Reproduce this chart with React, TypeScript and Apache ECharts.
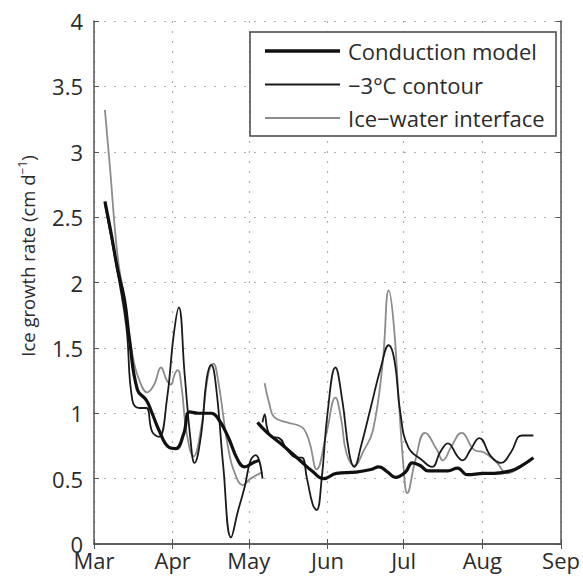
import React, { useEffect, useRef } from "react";
import * as echarts from "echarts";

// x values are days after 1 March; y values are ice growth rate (cm/d)
const MONTHS = ["Jan", "Feb", "Mar", "Apr", "May", "Jun", "Jul", "Aug", "Sep", "Oct", "Nov", "Dec"];
const SERIES_NAMES = ["Conduction model", "\u22123\u00b0C contour", "Ice\u2212water interface"];
const Y_NAME = "Ice growth rate (cm d{sup|\u22121})";

const condDays1 = [4.3, 7.0, 9.3, 12.0, 14.0, 17.1, 20.6, 22.9, 25.6, 29.5, 32.2, 35.3, 37.7, 41.1, 46.2, 48.9, 52.8, 56.7, 59.4, 62.5, 65.2];
const condVals1 = [2.62, 2.35, 2.1, 1.87, 1.56, 1.18, 1.1, 1.0, 0.87, 0.74, 0.73, 0.84, 1.01, 1.0, 1.0, 0.96, 0.82, 0.64, 0.59, 0.62, 0.64];
const condDays2 = [64.4, 68.3, 73.4, 81.1, 85.8, 90.5, 95.5, 103.3, 109.1, 112.2, 115.7, 118.8, 122.7, 125.4, 128.5, 131.6, 139.4, 143.2, 147.1, 153.7, 157.6, 164.2, 168.5, 173.1];
const condVals2 = [0.93, 0.85, 0.77, 0.64, 0.56, 0.5, 0.54, 0.55, 0.57, 0.59, 0.55, 0.51, 0.55, 0.62, 0.6, 0.56, 0.56, 0.58, 0.53, 0.54, 0.54, 0.56, 0.6, 0.66];

const contDays1 = [4.3, 10.0, 12.8, 15.1, 17.9, 20.6, 22.9, 25.6, 28.7, 31.4, 33.4, 35.7, 38.0, 39.6, 42.3, 44.3, 46.2, 48.1, 50.9, 54.0, 56.7, 59.4, 61.7, 63.7, 66.4];
const contVals1 = [2.6, 2.0, 1.65, 1.1, 1.04, 1.04, 0.86, 0.82, 1.1, 1.6, 1.81, 1.3, 0.8, 0.62, 0.85, 1.25, 1.37, 1.2, 0.6, 0.05, 0.25, 0.44, 0.64, 0.68, 0.5];
const contDays2 = [66.4, 67.2, 68.3, 69.9, 73.0, 76.1, 80.0, 81.9, 83.9, 86.2, 87.7, 89.7, 92.0, 95.1, 97.8, 100.5, 102.5, 105.2, 109.1, 113.0, 116.1, 118.4, 120.7, 123.8, 129.3, 133.2, 136.3, 139.4, 143.2, 145.2, 148.3, 151.8, 156.4, 160.3, 164.2, 168.5, 173.1];
const contVals2 = [0.93, 0.99, 0.88, 0.82, 0.81, 0.72, 0.66, 0.66, 0.5, 0.3, 0.26, 0.5, 1.0, 1.35, 1.1, 0.7, 0.59, 0.75, 1.05, 1.35, 1.52, 1.4, 1.0, 0.74, 0.64, 0.59, 0.7, 0.77, 0.67, 0.64, 0.72, 0.81, 0.67, 0.62, 0.7, 0.83, 0.83];

const iceDays1 = [4.3, 6.2, 9.3, 12.0, 15.1, 17.9, 21.0, 23.7, 26.4, 28.7, 30.3, 31.8, 33.0, 34.5, 36.5, 39.2, 42.3, 45.0, 47.0, 48.9, 52.8, 55.9, 58.6, 61.7, 66.4];
const iceVals1 = [3.32, 2.9, 2.2, 1.87, 1.45, 1.25, 1.16, 1.22, 1.35, 1.25, 1.22, 1.3, 1.33, 1.2, 0.85, 0.67, 0.9, 1.3, 1.38, 1.25, 0.74, 0.52, 0.45, 0.5, 0.55];
const iceDays2 = [67.2, 69.1, 71.0, 76.1, 80.0, 82.7, 85.0, 87.7, 91.6, 95.1, 97.4, 99.4, 102.5, 106.4, 109.9, 113.7, 116.1, 118.0, 120.0, 121.9, 123.4, 126.6, 130.4, 135.1, 137.4, 140.9, 144.8, 149.8, 153.7, 158.8, 162.7, 168.1, 173.1];
const iceVals2 = [1.23, 1.07, 0.97, 0.93, 0.91, 0.88, 0.77, 0.57, 0.85, 1.12, 0.95, 0.7, 0.6, 0.72, 0.87, 1.38, 1.94, 1.7, 1.12, 0.6, 0.39, 0.64, 0.85, 0.72, 0.64, 0.75, 0.85, 0.72, 0.7, 0.62, 0.54, 0.59, 0.66];

const DAY = 86400000;
const BASE = new Date(2003, 2, 1).getTime();
const X_MIN = BASE;
const X_MAX = new Date(2003, 8, 1).getTime();

const toPairs = (days: number[], vals: number[]) => days.map((d, i) => [BASE + d * DAY, vals[i]]);

const FONT = "Open Sans";
const TEXT = "#2b2b2b";
const AXIS = "#555";

// legend sample: a bar of given thickness centred in a 75x14 box
const barIcon = (t: number) => {
  const a = 7 - t / 2;
  const b = 7 + t / 2;
  return `path://M0,0L75,0L75,0.01L0,0.01Z M0,${a}L75,${a}L75,${b}L0,${b}Z M0,13.99L75,13.99L75,14L0,14Z`;
};

export default function App() {
  const ref = useRef<HTMLDivElement>(null);
  useEffect(() => {
    if (!ref.current) return;
    const chart = echarts.init(ref.current, null, { renderer: "svg" });
    const styles = [
      { color: "#111", width: 3.2 },
      { color: "#1a1a1a", width: 1.8 },
      { color: "#8c8c8c", width: 1.8 },
    ];
    const segs = [
      [toPairs(condDays1, condVals1), toPairs(condDays2, condVals2)],
      [toPairs(contDays1, contVals1), toPairs(contDays2, contVals2)],
      [toPairs(iceDays1, iceVals1), toPairs(iceDays2, iceVals2)],
    ];
    const order = [2, 1, 0];
    const series: any[] = [];
    order.forEach((k) => {
      segs[k].forEach((data) => {
        series.push({
          name: SERIES_NAMES[k],
          type: "line",
          data,
          smooth: 0.45,
          symbol: "none",
          showSymbol: false,
          lineStyle: { color: styles[k].color, width: styles[k].width },
          itemStyle: { color: styles[k].color },
        });
      });
    });
    const timeAxisBase = {
      type: "time",
      min: X_MIN,
      max: X_MAX,
      splitNumber: 6,
      minInterval: 28 * DAY,
      maxInterval: 31 * DAY,
    };
    chart.setOption({
      animation: false,
      textStyle: { fontFamily: FONT },
      grid: { left: 94, right: 15, top: 21, bottom: 35, containLabel: false },
      legend: {
        data: SERIES_NAMES.map((n, k) => ({
          name: n,
          icon: barIcon(k === 0 ? 3.4 : 2),
          itemStyle: { color: styles[k].color, borderWidth: 0 },
        })),
        orient: "vertical",
        left: 260,
        top: 35,
        itemWidth: 75,
        itemHeight: 14,
        itemGap: 11.5,
        textStyle: { fontSize: 22, color: TEXT, fontFamily: FONT, padding: [0, 0, 0, 3] },
        z: 5,
      },
      graphic: [
        {
          type: "rect",
          z: 3,
          shape: { x: 250, y: 32, width: 306, height: 104 },
          style: { fill: "#fff", stroke: "#444", lineWidth: 1.5 },
        },
        {
          type: "text",
          x: 27,
          y: 256,
          rotation: Math.PI / 2,
          z: 5,
          style: {
            text: Y_NAME,
            fontSize: 18.5,
            fontFamily: FONT,
            fill: TEXT,
            align: "center",
            verticalAlign: "middle",
            rich: { sup: { fontSize: 12, verticalAlign: "top", padding: [0, 0, 10, 0], fill: TEXT, fontFamily: FONT } },
          },
        },
      ],
      xAxis: [
        {
          ...timeAxisBase,
          position: "bottom",
          axisLine: { show: true, lineStyle: { color: AXIS, width: 1.5 } },
          axisTick: { show: true, inside: true, length: 5, lineStyle: { color: AXIS } },
          axisLabel: {
            fontSize: 22,
            color: TEXT,
            fontFamily: FONT,
            margin: 5,
            showMinLabel: true,
            showMaxLabel: true,
            hideOverlap: false,
            formatter: (v: number) => MONTHS[new Date(v).getMonth()],
          },
          minorTick: { show: false },
          splitLine: { show: true, lineStyle: { color: "#b0b0b0", type: [2, 8], width: 1.2 } },
        },
        {
          ...timeAxisBase,
          position: "top",
          axisLine: { show: true, lineStyle: { color: AXIS, width: 1.5 } },
          axisTick: { show: true, inside: true, length: 5, lineStyle: { color: AXIS } },
          axisLabel: { show: false },
          splitLine: { show: false },
        },
      ],
      yAxis: [
        {
          type: "value",
          min: 0,
          max: 4,
          interval: 0.5,
          position: "left",
          axisLine: { show: true, lineStyle: { color: AXIS, width: 1.5 } },
          axisTick: { show: true, inside: true, length: 5, lineStyle: { color: AXIS } },
          axisLabel: { fontSize: 22, color: TEXT, fontFamily: FONT, margin: 11 },
          splitLine: { show: true, lineStyle: { color: "#b0b0b0", type: [2, 8], width: 1.2 } },
        },
        {
          type: "value",
          min: 0,
          max: 4,
          interval: 0.5,
          position: "right",
          axisLine: { show: true, lineStyle: { color: AXIS, width: 1.5 } },
          axisTick: { show: true, inside: true, length: 5, lineStyle: { color: AXIS } },
          axisLabel: { show: false },
          splitLine: { show: false },
        },
      ],
      series,
    });
    return () => chart.dispose();
  }, []);
  return <div ref={ref} style={{ width: 583, height: 579, position: "absolute", left: 0, top: 0 }} />;
}
